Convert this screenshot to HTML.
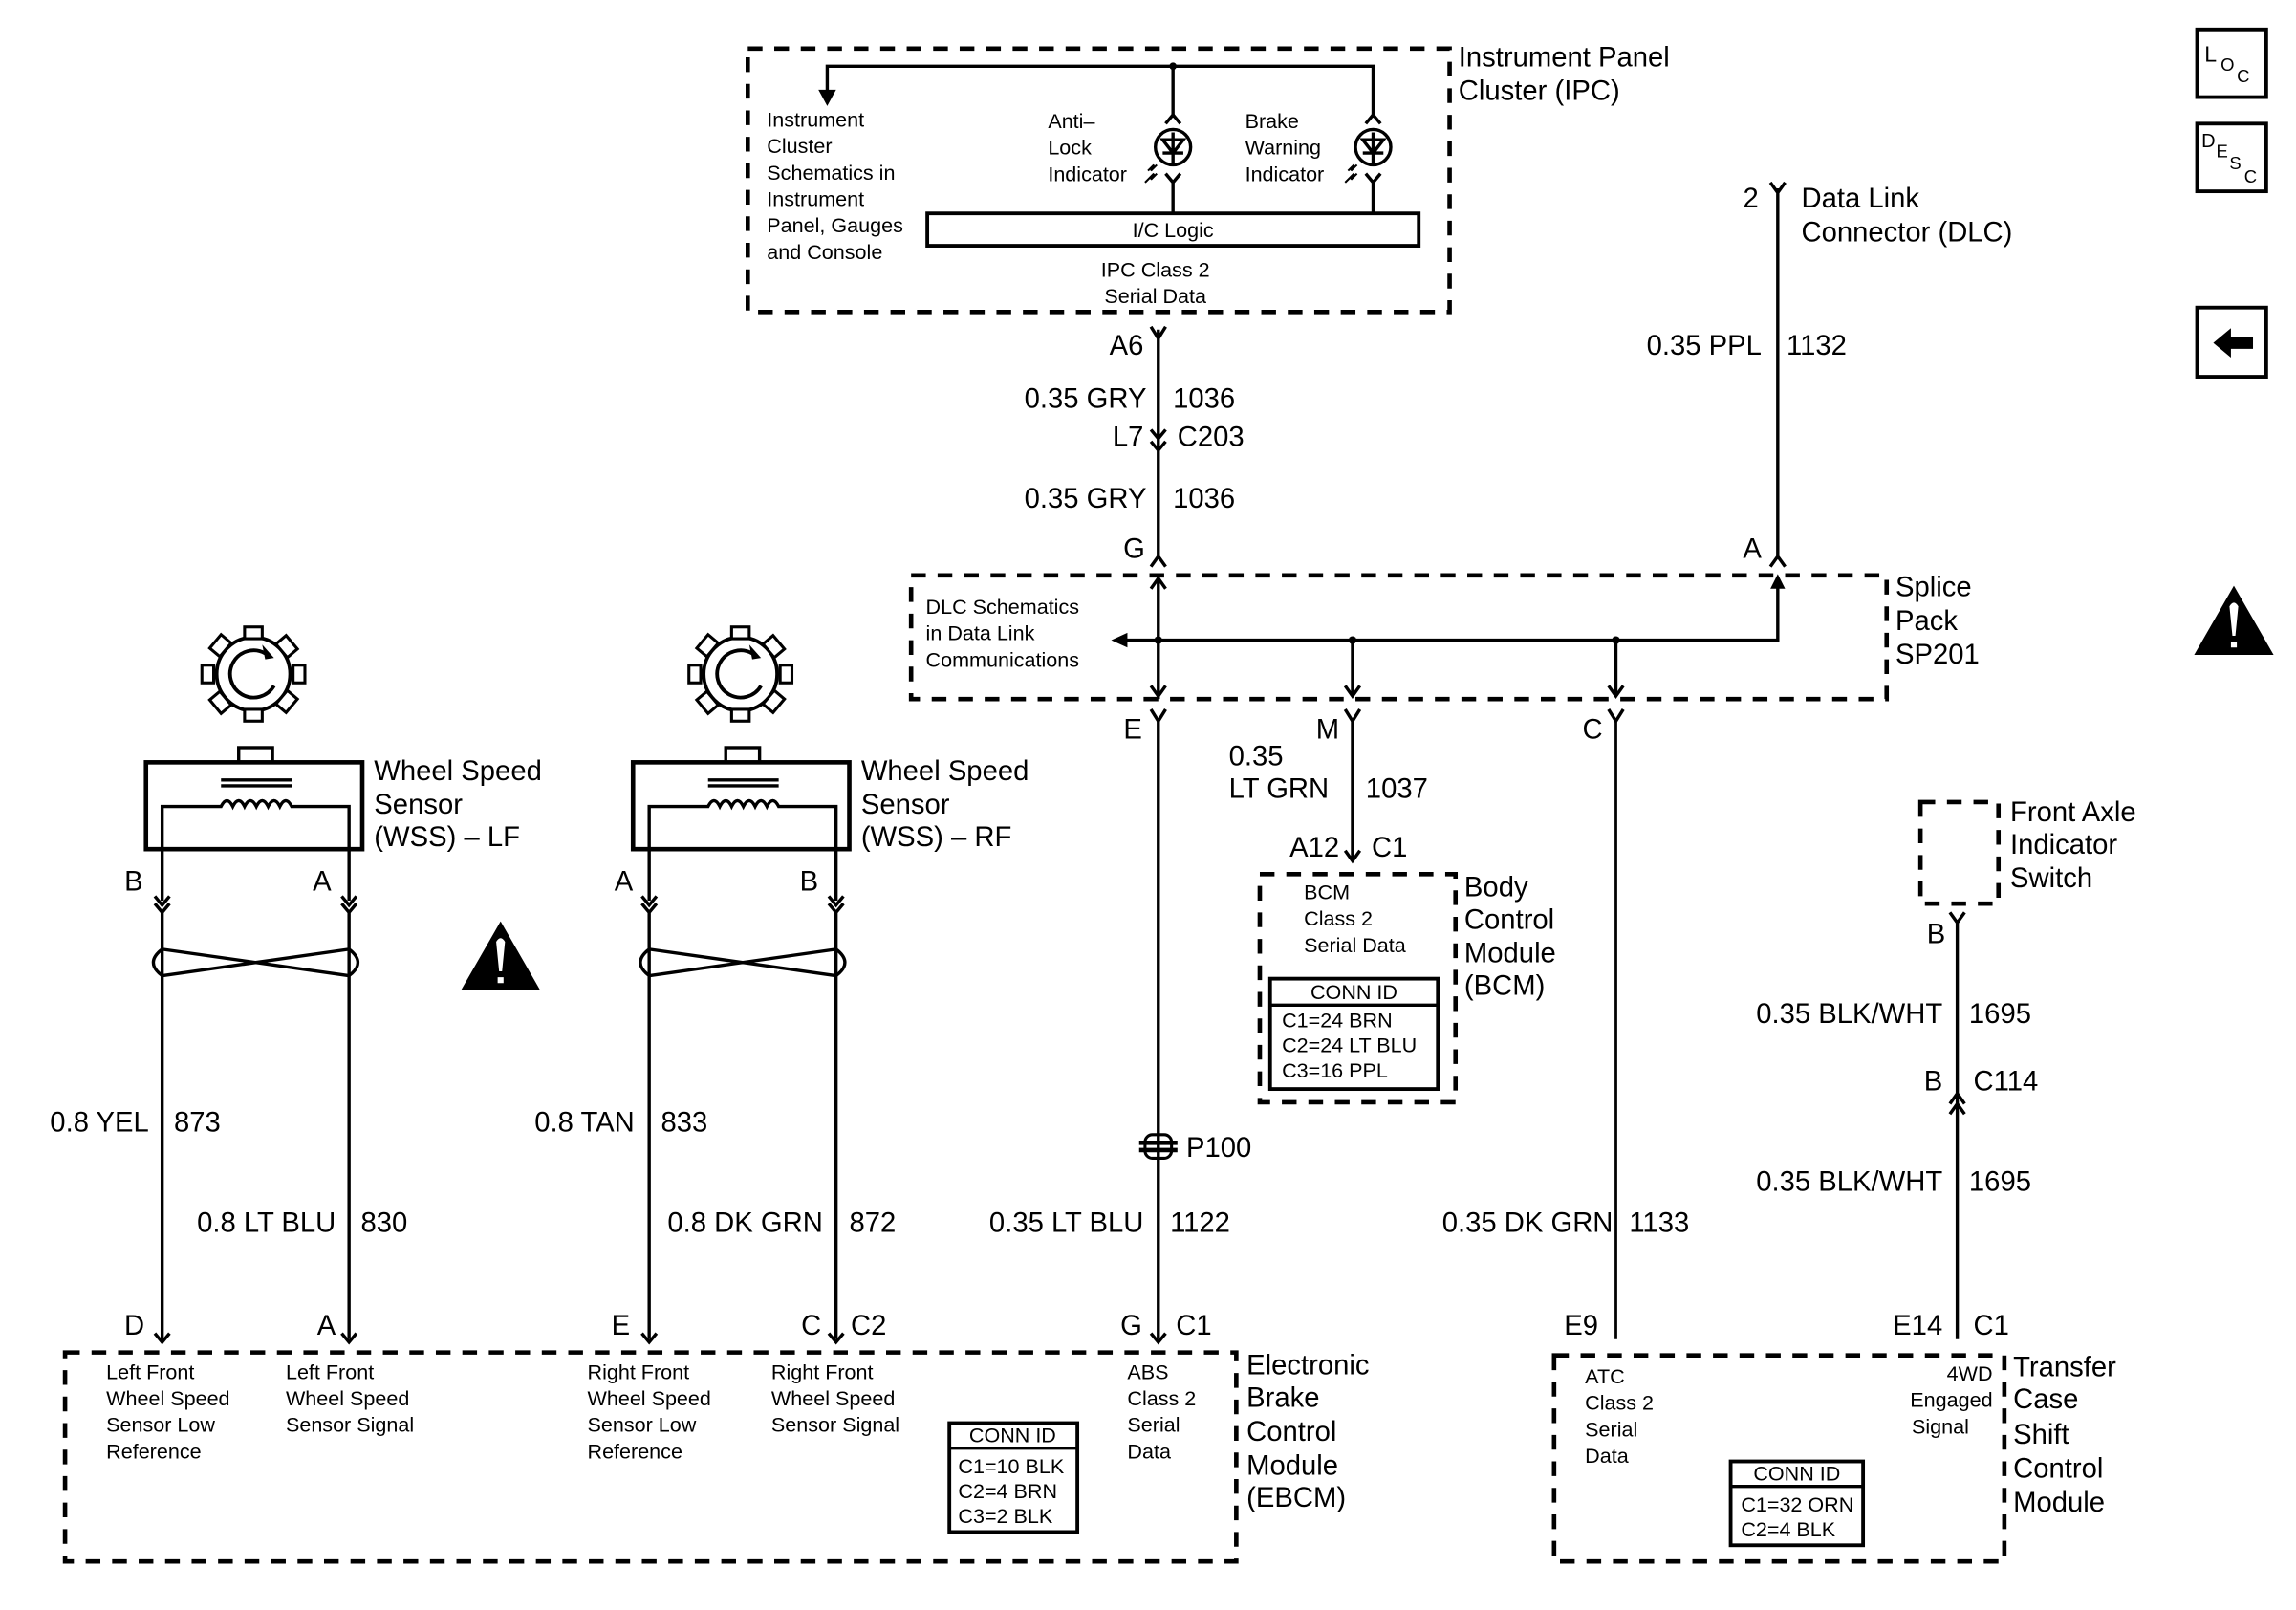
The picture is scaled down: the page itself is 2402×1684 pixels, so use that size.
<!DOCTYPE html>
<html><head><meta charset="utf-8"><style>
html,body{margin:0;padding:0;background:#fff}
svg{display:block}
text{font-family:"Liberation Sans",Arial,sans-serif;fill:#000}
.b{font-size:19px}.s{font-size:14px}.m{font-size:19px}
.w{stroke:#000;stroke-width:2.2;fill:none}
.d{stroke:#000;stroke-width:3;fill:none;stroke-dasharray:10 8}
.t{stroke:#000;stroke-width:2.5;fill:none}
</style></head><body>
<svg width="2402" height="1684" viewBox="0 0 1560 1094" xmlns="http://www.w3.org/2000/svg">
<rect width="1560" height="1094" fill="#fff"/>

<!-- IPC -->
<rect x="508" y="33" width="477" height="179" class="d"/>
<text class="b" x="991" y="45">Instrument Panel</text>
<text class="b" x="991" y="68">Cluster (IPC)</text>
<path class="w" d="M562 62 V45 H933 V80 M797 45 V80"/>
<path d="M556 61 L568 61 L562 72Z"/>
<circle cx="797" cy="45" r="2.5"/>
<g class="w">
<path d="M792 84 L797 78 L802 84"/><circle cx="797" cy="100" r="12"/><path d="M797 90 V112 M790 95 H804 L797 104Z M790 104 H804 M792 118 L797 124 L802 118 M797 124 V145"/>
<path d="M928 84 L933 78 L938 84"/><circle cx="933" cy="100" r="12"/><path d="M933 90 V112 M926 95 H940 L933 104Z M926 104 H940 M928 118 L933 124 L938 118 M933 124 V145"/>
</g>
<g stroke="#000" stroke-width="1.3" fill="none">
<path d="M780 116 l4 -4 l-2 4 l4 -4 M778 124 l6 -6 l-2 4 l4 -4"/>
<path d="M916 116 l4 -4 l-2 4 l4 -4 M914 124 l6 -6 l-2 4 l4 -4"/>
</g>
<rect x="630" y="145" width="334" height="22" class="t"/>
<text class="s" x="797" y="161" text-anchor="middle">I/C Logic</text>
<text class="s" x="785" y="188" text-anchor="middle">IPC Class 2</text>
<text class="s" x="785" y="206" text-anchor="middle">Serial Data</text>
<g class="s"><text x="521" y="86">Instrument</text><text x="521" y="104">Cluster</text><text x="521" y="122">Schematics in</text><text x="521" y="140">Instrument</text><text x="521" y="158">Panel, Gauges</text><text x="521" y="176">and Console</text>
<text x="712" y="87">Anti–</text><text x="712" y="105">Lock</text><text x="712" y="123">Indicator</text>
<text x="846" y="87">Brake</text><text x="846" y="105">Warning</text><text x="846" y="123">Indicator</text></g>

<!-- main 787 wire -->
<path class="w" d="M787 224 V380 M782 222 L787 230 L792 222 M782 292 L787 298 L792 292 M782 300 L787 306 L792 300 M782 385 L787 378 L792 385"/>
<g class="b"><text x="777" y="241" text-anchor="end">A6</text>
<text x="779" y="277" text-anchor="end">0.35 GRY</text><text x="797" y="277">1036</text>
<text x="777" y="303" text-anchor="end">L7</text><text x="800" y="303">C203</text>
<text x="779" y="345" text-anchor="end">0.35 GRY</text><text x="797" y="345">1036</text>
<text x="778" y="379" text-anchor="end">G</text><text x="1197" y="379" text-anchor="end">A</text></g>

<!-- DLC -->
<path class="w" d="M1208 128 V380 M1203 124 L1208 131 L1213 124 M1203 385 L1208 378 L1213 385"/>
<text class="b" x="1195" y="141" text-anchor="end">2</text>
<text class="b" x="1224" y="141">Data Link</text><text class="b" x="1224" y="164">Connector (DLC)</text>
<text class="b" x="1197" y="241" text-anchor="end">0.35 PPL</text><text class="b" x="1214" y="241">1132</text>

<!-- Splice -->
<rect x="619" y="391" width="663" height="84" class="d"/>
<text class="b" x="1288" y="405">Splice</text><text class="b" x="1288" y="428">Pack</text><text class="b" x="1288" y="451">SP201</text>
<path class="w" d="M764 435 H1208 V396 M787 391 V475 M919 435 V472 M1098 435 V472"/>
<path d="M755 435 L766 430 L766 440Z M1208 390 L1203 400 L1213 400Z"/>
<path class="w" d="M782 400 L787 393 L792 400 M782 466 L787 473 L792 466 M914 466 L919 473 L924 466 M1093 466 L1098 473 L1103 466"/>
<circle cx="787" cy="435" r="2.7"/><circle cx="919" cy="435" r="2.7"/><circle cx="1098" cy="435" r="2.7"/>
<text class="s" x="629" y="417">DLC Schematics</text><text class="s" x="629" y="435">in Data Link</text><text class="s" x="629" y="453">Communications</text>
<g class="w"><path d="M782 482 L787 490 L792 482 M914 482 L919 490 L924 482 M1093 482 L1098 490 L1103 482"/></g>
<g class="b"><text x="776" y="502" text-anchor="end">E</text><text x="910" y="502" text-anchor="end">M</text><text x="1089" y="502" text-anchor="end">C</text></g>

<!-- 787 down -->
<path class="w" d="M787 490 V910 M782 906 L787 912 L792 906"/>
<path d="M774 775 h26 v3 h-26z M774 780 h26 v3 h-26z"/><rect x="778" y="771" width="18" height="16" rx="5" fill="none" stroke="#000" stroke-width="2"/>
<text class="b" x="806" y="786">P100</text>
<text class="b" x="777" y="837" text-anchor="end">0.35 LT BLU</text><text class="b" x="795" y="837">1122</text>
<text class="b" x="776" y="907" text-anchor="end">G</text><text class="b" x="799" y="907">C1</text>

<!-- 919 -->
<path class="w" d="M919 490 V585 M914 578 L919 585 L924 578"/>
<text class="b" x="835" y="520">0.35</text><text class="b" x="835" y="542">LT GRN</text><text class="b" x="928" y="542">1037</text>
<text class="b" x="910" y="582" text-anchor="end">A12</text><text class="b" x="932" y="582">C1</text>
<rect x="856" y="594" width="133" height="155" class="d"/>
<text class="s" x="886" y="611">BCM</text><text class="s" x="886" y="629">Class 2</text><text class="s" x="886" y="647">Serial Data</text>
<rect x="863" y="665" width="114" height="75" class="t"/><path class="w" d="M863 683 H977"/>
<text class="s" x="920" y="679" text-anchor="middle">CONN ID</text>
<text class="s" x="871" y="698">C1=24 BRN</text><text class="s" x="871" y="715">C2=24 LT BLU</text><text class="s" x="871" y="732">C3=16 PPL</text>
<text class="b" x="995" y="609">Body</text><text class="b" x="995" y="631">Control</text><text class="b" x="995" y="654">Module</text><text class="b" x="995" y="676">(BCM)</text>

<!-- 1098 -->
<path class="t" d="M1098 490 V910" style="stroke-width:1.8"/>
<text class="b" x="1096" y="837" text-anchor="end">0.35 DK GRN</text><text class="b" x="1107" y="837">1133</text>
<text class="b" x="1086" y="907" text-anchor="end">E9</text>

<!-- front axle -->
<rect x="1305" y="545" width="53" height="69" class="d"/>
<text class="b" x="1366" y="558">Front Axle</text><text class="b" x="1366" y="580">Indicator</text><text class="b" x="1366" y="603">Switch</text>
<path class="w" d="M1330 625 V910 M1325 620 L1330 627 L1335 620 M1325 750 L1330 743 L1335 750 M1325 757 L1330 750 L1335 757"/>
<text class="b" x="1322" y="641" text-anchor="end">B</text>
<text class="b" x="1320" y="695" text-anchor="end">0.35 BLK/WHT</text><text class="b" x="1338" y="695">1695</text>
<text class="b" x="1320" y="741" text-anchor="end">B</text><text class="b" x="1341" y="741">C114</text>
<text class="b" x="1320" y="809" text-anchor="end">0.35 BLK/WHT</text><text class="b" x="1338" y="809">1695</text>
<text class="b" x="1320" y="907" text-anchor="end">E14</text><text class="b" x="1341" y="907">C1</text>

<!-- TCCM -->
<rect x="1056" y="921" width="306" height="140" class="d"/>
<g class="s"><text x="1077" y="940">ATC</text><text x="1077" y="958">Class 2</text><text x="1077" y="976">Serial</text><text x="1077" y="994">Data</text>
<text x="1354" y="938" text-anchor="end">4WD</text><text x="1354" y="956" text-anchor="end">Engaged</text><text x="1338" y="974" text-anchor="end">Signal</text></g>
<rect x="1176" y="993" width="90" height="57" class="t"/><path class="w" d="M1176 1010 H1266"/>
<text class="s" x="1221" y="1006" text-anchor="middle">CONN ID</text>
<text class="s" x="1183" y="1027">C1=32 ORN</text><text class="s" x="1183" y="1044">C2=4 BLK</text>
<g class="b"><text x="1368" y="935">Transfer</text><text x="1368" y="957">Case</text><text x="1368" y="981">Shift</text><text x="1368" y="1004">Control</text><text x="1368" y="1027">Module</text></g>

<!-- EBCM -->
<rect x="44" y="919" width="796" height="142" class="d"/>
<g class="b"><text x="847" y="934">Electronic</text><text x="847" y="956">Brake</text><text x="847" y="979">Control</text><text x="847" y="1002">Module</text><text x="847" y="1024">(EBCM)</text></g>
<g class="s">
<text x="72" y="937">Left Front</text><text x="72" y="955">Wheel Speed</text><text x="72" y="973">Sensor Low</text><text x="72" y="991">Reference</text>
<text x="194" y="937">Left Front</text><text x="194" y="955">Wheel Speed</text><text x="194" y="973">Sensor Signal</text>
<text x="399" y="937">Right Front</text><text x="399" y="955">Wheel Speed</text><text x="399" y="973">Sensor Low</text><text x="399" y="991">Reference</text>
<text x="524" y="937">Right Front</text><text x="524" y="955">Wheel Speed</text><text x="524" y="973">Sensor Signal</text>
<text x="766" y="937">ABS</text><text x="766" y="955">Class 2</text><text x="766" y="973">Serial</text><text x="766" y="991">Data</text></g>
<rect x="645" y="967" width="87" height="74" class="t"/><path class="w" d="M645 984 H732"/>
<text class="s" x="688" y="980" text-anchor="middle">CONN ID</text>
<text class="s" x="651" y="1001">C1=10 BLK</text><text class="s" x="651" y="1018">C2=4 BRN</text><text class="s" x="651" y="1035">C3=2 BLK</text>

<!-- Sensors -->
<g id="sen">
<g class="t">
<circle cx="172" cy="458" r="25"/>
<path d="M180 444 A16 16 0 1 0 186 466" /></g>
<path d="M178 438 L186 447 L180 448Z"/>
<g fill="#fff" stroke="#000" stroke-width="2">
<rect x="166" y="426" width="12" height="8"/><rect x="166" y="482" width="12" height="8"/>
<rect x="137" y="452" width="8" height="12"/><rect x="199" y="452" width="8" height="12"/>
<rect x="145" y="433" width="9" height="12" transform="rotate(40 150 439)"/><rect x="190" y="433" width="9" height="12" transform="rotate(-40 195 439)"/>
<rect x="145" y="471" width="9" height="12" transform="rotate(-40 150 477)"/><rect x="190" y="471" width="9" height="12" transform="rotate(40 195 477)"/>
</g>
<rect x="162" y="508" width="23" height="10" class="w"/>
<rect x="99" y="518" width="147" height="59" class="t" style="stroke-width:3"/>
<path class="w" d="M150 530 H198 M150 534 H198 M110 612 V548 H150 q4 -8 8 0 q4 -8 8 0 q4 -8 8 0 q4 -8 8 0 q4 -8 8 0 q4 -8 8 0 H237 V612"/>
<path class="w" d="M105 609 L110 615 L115 609 M105 614 L110 620 L115 614 M232 609 L237 615 L242 609 M232 614 L237 620 L242 614 M110 620 V910 M237 620 V910"/>
<path class="w" d="M110 645 Q98 654 110 663 L237 645 Q249 654 237 663 Z"/>
<path class="w" d="M105 906 L110 912 L115 906 M232 906 L237 912 L242 906"/>
</g>
<use href="#sen" transform="translate(331 0)"/>
<g class="b">
<text x="254" y="530">Wheel Speed</text><text x="254" y="553">Sensor</text><text x="254" y="575">(WSS) – LF</text>
<text x="585" y="530">Wheel Speed</text><text x="585" y="553">Sensor</text><text x="585" y="575">(WSS) – RF</text>
<text x="97" y="605" text-anchor="end">B</text><text x="225" y="605" text-anchor="end">A</text>
<text x="430" y="605" text-anchor="end">A</text><text x="556" y="605" text-anchor="end">B</text>
<text x="101" y="769" text-anchor="end">0.8 YEL</text><text x="118" y="769">873</text>
<text x="228" y="837" text-anchor="end">0.8 LT BLU</text><text x="245" y="837">830</text>
<text x="431" y="769" text-anchor="end">0.8 TAN</text><text x="449" y="769">833</text>
<text x="559" y="837" text-anchor="end">0.8 DK GRN</text><text x="577" y="837">872</text>
<text x="98" y="907" text-anchor="end">D</text><text x="228" y="907" text-anchor="end">A</text>
<text x="428" y="907" text-anchor="end">E</text><text x="558" y="907" text-anchor="end">C</text><text x="578" y="907">C2</text></g>

<!-- warnings -->
<path d="M340 626 L367 673 L313 673Z"/><path d="M337 640 Q340 635 343 640 L341 660 H339Z M338 664 h4 v4 h-4z" fill="#fff"/>
<path d="M1518 398 L1545 445 L1491 445Z"/><path d="M1515 412 Q1518 407 1521 412 L1519 432 H1517Z M1516 436 h4 v4 h-4z" fill="#fff"/>

<!-- sidebar -->
<rect x="1493" y="20" width="47" height="46" class="t"/>
<text x="1498" y="42" style="font-size:15px">L</text><text x="1509" y="48" style="font-size:12px">O</text><text x="1520" y="56" style="font-size:12px">C</text>
<rect x="1493" y="84" width="47" height="46" class="t"/>
<text x="1496" y="100" style="font-size:13px">D</text><text x="1506" y="107" style="font-size:12px">E</text><text x="1515" y="115" style="font-size:12px">S</text><text x="1525" y="124" style="font-size:12px">C</text>
<rect x="1493" y="209" width="47" height="47" class="t"/>
<path d="M1504 233 L1516 223 V229 H1531 V237 H1516 V243Z"/>
</svg>
</body></html>
